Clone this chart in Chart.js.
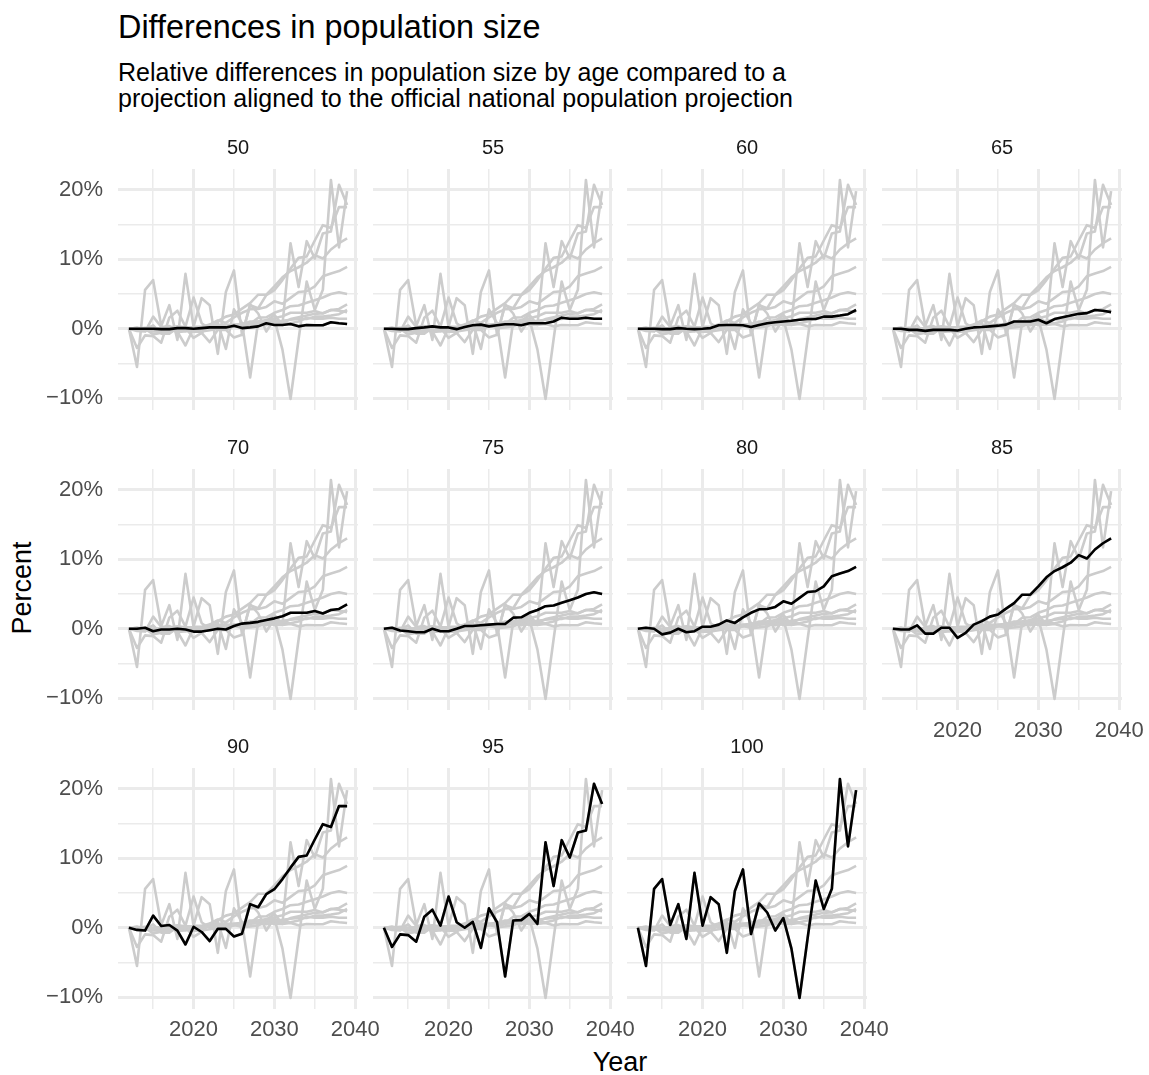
<!DOCTYPE html>
<html>
<head>
<meta charset="utf-8">
<script src="https://cdn.jsdelivr.net/npm/chart.js@4.4.1/dist/chart.umd.min.js"></script>
<style>
  html, body { margin: 0; padding: 0; background: #ffffff; }
  body { width: 1149px; height: 1075px; position: relative; overflow: hidden;
         font-family: 'Liberation Sans', Arial, sans-serif; }
  .txt { position: absolute; white-space: nowrap; color: #000000; }
  #title { left: 118px; top: 8px; font-size: 32.4px; line-height: 38px; }
  #subtitle { left: 118px; top: 59px; font-size: 25px; line-height: 26px; }
  #ylab { left: 22px; top: 588px; font-size: 27px; transform: translate(-50%, -50%) rotate(-90deg); }
  #xlab { left: 620px; top: 1062px; font-size: 27px; transform: translate(-50%, -50%); }
  canvas { position: absolute; }
</style>
</head>
<body>
<div id="title" class="txt">Differences in population size</div>
<div id="subtitle" class="txt">Relative differences in population size by age compared to a<br>projection aligned to the official national population projection</div>
<div id="ylab" class="txt">Percent</div>
<div id="xlab" class="txt">Year</div>
<script>
// Projection years
const years = [2012, 2013, 2014, 2015, 2016, 2017, 2018, 2019, 2020, 2021,
               2022, 2023, 2024, 2025, 2026, 2027, 2028, 2029, 2030, 2031,
               2032, 2033, 2034, 2035, 2036, 2037, 2038, 2039];

// Age groups, one facet each
const ages = ['50', '55', '60', '65', '70', '75', '80', '85', '90', '95', '100'];

// Relative difference (%) per age, by year
const age50  = [0, 0, 0, 0, -0.05, -0.05, 0.1, 0.1, 0, 0.1, 0.2, 0.2, 0.2, 0.45, 0.1, 0.2, 0.35, 0.8, 0.55, 0.55, 0.7, 0.35, 0.55, 0.5, 0.5, 0.95, 0.8, 0.7];
const age55  = [0, 0, -0.05, -0.05, 0.1, 0.2, 0.35, 0.2, 0.2, -0.05, 0.25, 0.5, 0.6, 0.35, 0.5, 0.65, 0.65, 0.5, 0.8, 0.8, 0.8, 1.05, 1.6, 1.45, 1.45, 1.6, 1.45, 1.45];
const age60  = [0, 0, 0, -0.05, -0.05, 0.1, 0, -0.05, 0, 0.1, 0.5, 0.55, 0.55, 0.5, 0.25, 0.55, 0.8, 0.95, 1.05, 1.15, 1.3, 1.4, 1.4, 1.75, 1.75, 1.9, 2.1, 2.7];
const age65  = [0, 0, -0.15, -0.15, -0.3, -0.15, -0.15, -0.15, -0.25, 0, 0.2, 0.25, 0.35, 0.45, 0.6, 1.05, 1.05, 1.05, 1.3, 0.8, 1.4, 1.65, 1.9, 2.15, 2.25, 2.7, 2.6, 2.4];
const age70  = [0, 0, 0.15, -0.35, -0.1, -0.1, 0, -0.1, -0.4, -0.4, -0.2, 0, -0.1, 0.4, 0.75, 0.85, 1.0, 1.25, 1.5, 1.8, 2.3, 2.3, 2.3, 2.55, 2.2, 2.7, 2.85, 3.5];
const age75  = [0, 0.15, -0.25, -0.35, -0.5, -0.5, 0, -0.35, -0.35, 0, 0.4, 0.4, 0.5, 0.6, 0.7, 0.7, 1.6, 1.65, 2.3, 2.7, 3.25, 3.35, 3.75, 4.1, 4.5, 5.0, 5.25, 5.0];
const age80  = [0, 0.15, 0, -0.8, -0.55, 0, -0.5, -0.35, 0.3, 0.3, 0.6, 1.2, 0.85, 1.65, 2.3, 2.8, 2.85, 3.15, 3.95, 3.6, 4.45, 5.3, 5.4, 6.1, 7.55, 7.95, 8.3, 8.9];
const age85  = [0, -0.1, -0.1, 0.5, -0.7, -0.7, 0.15, 0.15, -1.3, -0.6, 0.6, 1.1, 1.75, 2.05, 2.9, 3.7, 4.9, 4.9, 6.1, 7.4, 8.3, 8.85, 9.5, 10.6, 10.1, 11.4, 12.3, 13.0];
const age90  = [0, -0.3, -0.4, 1.75, 0.25, 0.4, -0.4, -2.4, 0.15, -0.6, -1.9, -0.15, -0.15, -1.25, -0.85, 3.4, 2.95, 4.85, 5.55, 7.0, 8.65, 10.2, 10.4, 12.7, 14.9, 14.5, 17.5, 17.5];
const age95  = [0, -2.75, -0.95, -1.05, -2.0, 1.6, 2.6, 0.3, 4.5, 0.8, 0, 0.85, -2.9, 2.8, 0.8, -7.0, 1.05, 1.1, 2.0, 0.55, 12.3, 6.0, 12.6, 10.1, 13.7, 14.0, 20.7, 17.8];
const age100 = [0, -5.5, 5.6, 7.0, 0.4, 3.4, -1.6, 7.9, 0.3, 4.4, 3.4, -3.6, 5.3, 8.4, -0.9, 3.5, 2.2, -0.4, 1.4, -3.0, -10.1, -1.5, 6.8, 2.7, 5.6, 21.4, 11.7, 19.8];

const seriesByAge = [age50, age55, age60, age65, age70, age75, age80, age85, age90, age95, age100];

// Grid breaks (major every 10, minor halfway)
const yBreaks = [-10, -5, 0, 5, 10, 15, 20];
const xBreaks = [2015, 2020, 2025, 2030, 2035, 2040];

// Facet geometry
const PANEL_W = 240, PANEL_H = 241;
const SIDE = 110, STRIP_H = 40, XAXIS_H = 45;
const colLeft = [118, 373, 627, 882];
const rowTop = [169, 469, 768];

const FONT = "'Liberation Sans', Arial, sans-serif";
const GRID = '#EBEBEB';
const TICK_FONT = { family: FONT, size: 22 };
const isMajor = v => Math.abs(v % 10) < 1e-9;
const gridWidth = ctx => (ctx.tick && isMajor(ctx.tick.value)) ? 3 : 1.5;
const pctLabel = v => isMajor(v) ? (v < 0 ? '\u2212' + Math.abs(v) : String(v)) + '%' : '';
const toPoints = vals => vals.map((v, k) => ({ x: years[k], y: v }));

ages.forEach((age, i) => {
  const col = i % 4, row = Math.floor(i / 4);
  const showY = col === 0;
  const showX = row === 2 || (row === 1 && col === 3);

  const canvas = document.createElement('canvas');
  const w = SIDE + PANEL_W + SIDE, h = STRIP_H + PANEL_H + XAXIS_H;
  canvas.width = w; canvas.height = h;
  canvas.style.width = w + 'px'; canvas.style.height = h + 'px';
  canvas.style.left = (colLeft[col] - SIDE) + 'px';
  canvas.style.top = (rowTop[row] - STRIP_H) + 'px';
  document.body.appendChild(canvas);

  const datasets = [{
    label: age, data: toPoints(seriesByAge[i]),
    borderColor: '#000000', borderWidth: 2.6, order: 0
  }];
  seriesByAge.forEach((s, j) => datasets.push({
    label: ages[j], data: toPoints(s),
    borderColor: '#CCCCCC', borderWidth: 2.6, order: 1
  }));

  new Chart(canvas, {
    type: 'line',
    data: { datasets },
    options: {
      responsive: false,
      animation: false,
      devicePixelRatio: 1,
      layout: { autoPadding: false, padding: { left: 0, right: SIDE, top: 0, bottom: 0 } },
      elements: {
        point: { radius: 0, hoverRadius: 0 },
        line: { tension: 0, borderJoinStyle: 'round', borderCapStyle: 'butt', fill: false }
      },
      plugins: {
        legend: { display: false },
        tooltip: { enabled: false },
        // facet strip label, centred over the panel
        title: {
          display: true, fullSize: false, text: age, color: '#1A1A1A',
          font: { family: FONT, size: 20, weight: 'normal' },
          padding: { top: 7, bottom: 9 }
        }
      },
      scales: {
        x: {
          type: 'linear', min: 2010.65, max: 2040.35,
          afterBuildTicks: s => { s.ticks = xBreaks.map(v => ({ value: v })); },
          afterFit: s => { s.height = XAXIS_H; },
          border: { display: false },
          grid: { color: GRID, lineWidth: gridWidth, drawTicks: false },
          ticks: {
            display: showX, autoSkip: false, maxRotation: 0, minRotation: 0,
            padding: 8, color: '#4D4D4D', font: TICK_FONT,
            callback: v => isMajor(v) ? String(v) : ''
          }
        },
        y: {
          type: 'linear', min: -11.675, max: 22.975,
          afterBuildTicks: s => { s.ticks = yBreaks.map(v => ({ value: v })); },
          afterFit: s => { s.width = SIDE; },
          border: { display: false },
          grid: { color: GRID, lineWidth: gridWidth, drawTicks: false },
          ticks: {
            display: showY, autoSkip: false, padding: 15,
            color: '#4D4D4D', font: TICK_FONT,
            callback: v => pctLabel(v)
          }
        }
      }
    }
  });
});
</script>
</body>
</html>
